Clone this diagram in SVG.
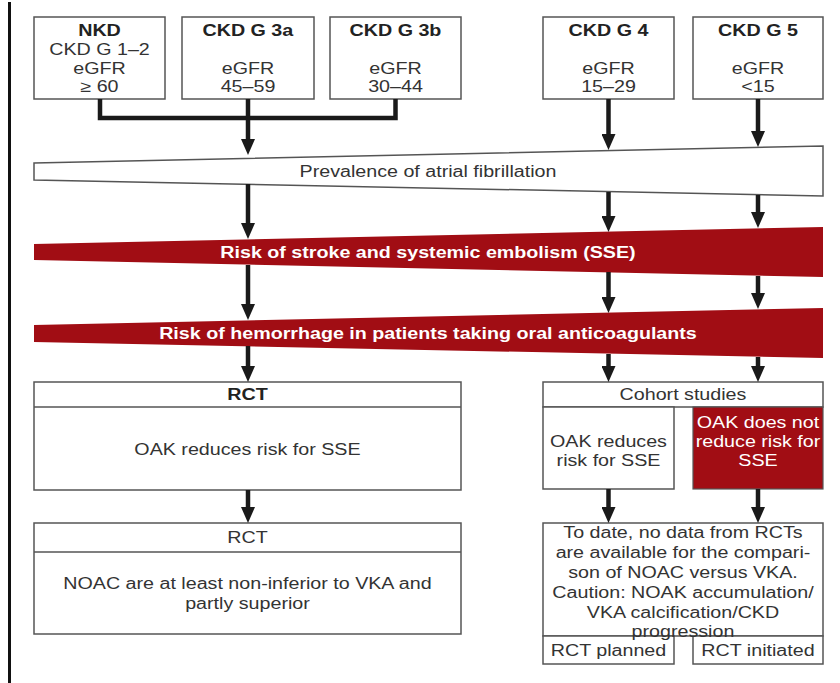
<svg xmlns="http://www.w3.org/2000/svg" width="840" height="683" viewBox="0 0 840 683">
  <defs>
    <marker id="ah" viewBox="0 0 16 14" refX="0" refY="7" markerWidth="16" markerHeight="14" markerUnits="userSpaceOnUse" orient="auto">
      <path d="M0,0 L16,7 L0,14 Z" fill="#1a1a1a"/>
    </marker>
    <style>
      .box { fill: #fff; stroke: #555; stroke-width: 1.5; }
      .red { fill: #a10d14; stroke: #555; stroke-width: 1.2; }
      .band-w { fill: #fff; stroke: #555; stroke-width: 1.5; }
      .band-r { fill: #a10d14; }
      .t { font-family: "Liberation Sans", Arial, Helvetica, sans-serif; font-size: 16px; fill: #333; text-anchor: middle;
           transform-box: fill-box; transform-origin: center; transform: scaleX(1.23); }
      .b { font-weight: bold; fill: #222; }
      .wt { fill: #fff; }
      .ln { fill: none; stroke: #1a1a1a; stroke-width: 4.5; }
      .ar { fill: none; stroke: #1a1a1a; stroke-width: 4.5; marker-end: url(#ah); }
      .div { stroke: #555; stroke-width: 1.5; }
    </style>
  </defs>

  <rect width="840" height="683" fill="#fff"/>

  <!-- left margin rule -->
  <line x1="9.5" y1="2" x2="9.5" y2="683" stroke="#111" stroke-width="3"/>

  <!-- CKD stage boxes -->
  <g id="nkd">
    <rect class="box" x="34" y="17" width="131" height="82"/>
    <text class="t b" x="99.5" y="36">NKD</text>
    <text class="t" x="99.5" y="55">CKD G 1–2</text>
    <text class="t" x="99.5" y="74">eGFR</text>
    <text class="t" x="99.5" y="92">≥ 60</text>
  </g>
  <g id="ckd3a">
    <rect class="box" x="182" y="17" width="132" height="82"/>
    <text class="t b" x="248" y="36">CKD G 3a</text>
    <text class="t" x="248" y="74">eGFR</text>
    <text class="t" x="248" y="92">45–59</text>
  </g>
  <g id="ckd3b">
    <rect class="box" x="330" y="17" width="131" height="82"/>
    <text class="t b" x="395.5" y="36">CKD G 3b</text>
    <text class="t" x="395.5" y="74">eGFR</text>
    <text class="t" x="395.5" y="92">30–44</text>
  </g>
  <g id="ckd4">
    <rect class="box" x="543" y="17" width="131" height="82"/>
    <text class="t b" x="608.5" y="36">CKD G 4</text>
    <text class="t" x="608.5" y="74">eGFR</text>
    <text class="t" x="608.5" y="92">15–29</text>
  </g>
  <g id="ckd5">
    <rect class="box" x="693" y="17" width="130" height="82"/>
    <text class="t b" x="758" y="36">CKD G 5</text>
    <text class="t" x="758" y="74">eGFR</text>
    <text class="t" x="758" y="92">&lt;15</text>
  </g>

  <!-- widening bands -->
  <g id="prevalence">
    <polygon class="band-w" points="34,163 823,146 823,196 34,180"/>
    <text class="t" x="428" y="177">Prevalence of atrial fibrillation</text>
  </g>
  <g id="sse-risk">
    <polygon class="band-r" points="34,244 823,227 823,277 34,260"/>
    <text class="t b wt" x="428" y="258">Risk of stroke and systemic embolism (SSE)</text>
  </g>
  <g id="bleeding-risk">
    <polygon class="band-r" points="34,325 823,308 823,358 34,342"/>
    <text class="t b wt" x="428" y="339">Risk of hemorrhage in patients taking oral anticoagulants</text>
  </g>

  <!-- evidence boxes, left column -->
  <g id="rct-oak">
    <rect class="box" x="34" y="382" width="427" height="108"/>
    <line class="div" x1="34" y1="407" x2="461" y2="407"/>
    <text class="t b" x="247.5" y="400">RCT</text>
    <text class="t" x="247.5" y="455">OAK reduces risk for SSE</text>
  </g>
  <g id="rct-noac">
    <rect class="box" x="34" y="523" width="427" height="111"/>
    <line class="div" x1="34" y1="552" x2="461" y2="552"/>
    <text class="t" x="247.5" y="543">RCT</text>
    <text class="t" x="247.5" y="589">NOAC are at least non-inferior to VKA and</text>
    <text class="t" x="247.5" y="609">partly superior</text>
  </g>

  <!-- evidence boxes, right column -->
  <g id="cohort">
    <rect class="box" x="543" y="382" width="280" height="25"/>
    <text class="t" x="683" y="400">Cohort studies</text>
  </g>
  <g id="cohort-reduces">
    <rect class="box" x="543" y="407" width="131" height="82"/>
    <text class="t" x="608.5" y="447">OAK reduces</text>
    <text class="t" x="608.5" y="466">risk for SSE</text>
  </g>
  <g id="cohort-not-reduces">
    <rect class="red" x="693" y="407" width="130" height="82"/>
    <text class="t wt" x="758" y="428">OAK does not</text>
    <text class="t wt" x="758" y="447">reduce risk for</text>
    <text class="t wt" x="758" y="466">SSE</text>
  </g>
  <g id="no-data">
    <rect class="box" x="543" y="523" width="280" height="113"/>
  </g>
  <g id="rct-planned">
    <rect class="box" x="543" y="636" width="131" height="28"/>
    <text class="t" x="608.5" y="656">RCT planned</text>
  </g>
  <g id="rct-initiated">
    <rect class="box" x="693" y="636" width="130" height="28"/>
    <text class="t" x="758" y="656">RCT initiated</text>
  </g>
  <g id="no-data-text">
    <text class="t" x="683" y="538">To date, no data from RCTs</text>
    <text class="t" x="683" y="558">are available for the compari-</text>
    <text class="t" x="683" y="578">son of NOAC versus VKA.</text>
    <text class="t" x="683" y="598">Caution: NOAK accumulation/</text>
    <text class="t" x="683" y="618">VKA calcification/CKD</text>
    <text class="t" x="683" y="637">progression</text>
  </g>

  <!-- connectors -->
  <g id="connectors">
    <path class="ln" d="M100,99 V118 H395.5 V99"/>
    <path class="ar" d="M248,99 V139"/>
    <path class="ar" d="M608.5,99 V134"/>
    <path class="ar" d="M758,99 V131"/>

    <path class="ar" d="M248,184 V223"/>
    <path class="ar" d="M608.5,192 V216"/>
    <path class="ar" d="M758,195 V212"/>

    <path class="ar" d="M248,265 V304"/>
    <path class="ar" d="M608.5,272 V297"/>
    <path class="ar" d="M758,276 V293"/>

    <path class="ar" d="M248,346 V366"/>
    <path class="ar" d="M608.5,354 V366"/>
    <path class="ar" d="M758,357 V366"/>

    <path class="ar" d="M248,490 V507"/>
    <path class="ar" d="M608.5,489 V507"/>
    <path class="ar" d="M758,489 V507"/>
  </g>
</svg>
